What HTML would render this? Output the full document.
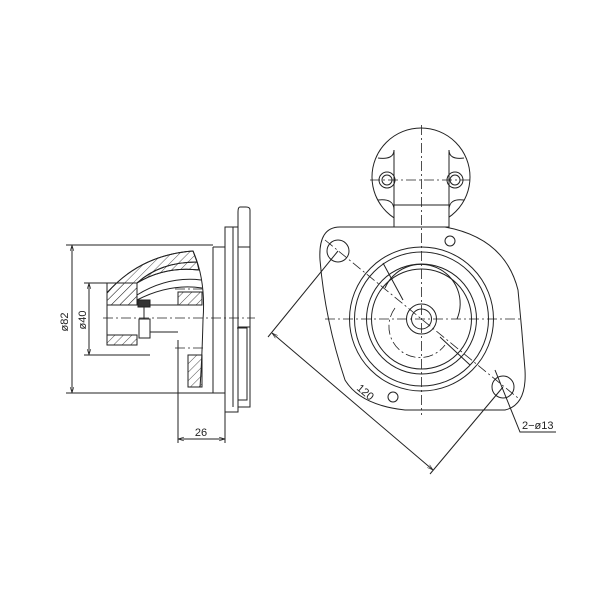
<!DOCTYPE html>
<html><head><style>body{margin:0;background:#fff}svg{display:block}</style></head><body>
<svg width="600" height="600" viewBox="0 0 600 600" xmlns="http://www.w3.org/2000/svg" font-family="Liberation Sans, sans-serif">
<defs>
<pattern id="h" width="6" height="6" patternUnits="userSpaceOnUse" patternTransform="rotate(45)"><line x1="0" y1="0" x2="0" y2="6" stroke="#222" stroke-width="0.8"/></pattern>
<marker id="a" viewBox="0 0 10 10" refX="10" refY="5" markerWidth="6" markerHeight="6" orient="auto-start-reverse"><path d="M0,2 L10,5 L0,8" fill="none" stroke="#222"/></marker>
</defs>
<g fill="none" stroke="#222" stroke-width="1">
<!-- LEFT VIEW -->
<path d="M225,227 V412 H238 V407 H250 V210 Q250,207 246,207 H240 Q238,207 238,212 V227 Z"/>
<line x1="233" y1="227" x2="233" y2="407"/><line x1="238" y1="227" x2="238" y2="407"/>
<line x1="238" y1="247" x2="250" y2="247"/><line x1="238" y1="327" x2="250" y2="327"/>
<path d="M213,247 H225 M213,393 H225 M213,247 V393"/>
<path d="M237,328 H247 V400 H238"/>
<line x1="66" y1="245" x2="213" y2="245"/><line x1="66" y1="393" x2="213" y2="393"/>
<line x1="72" y1="245" x2="72" y2="393" marker-start="url(#a)" marker-end="url(#a)"/>
<line x1="84" y1="283" x2="137" y2="283"/><line x1="84" y1="355" x2="150" y2="355"/>
<line x1="89" y1="283" x2="89" y2="355" marker-start="url(#a)" marker-end="url(#a)"/>
<path d="M107,293 Q140,255 193,251 Q206,280 203,320 Q202,360 200,387"/>
<path d="M107,293 Q140,255 193,251 L197,262 Q160,262 137,283 L137,305 L107,305 Z" fill="url(#h)"/>
<path d="M137,283 Q165,266 199,270 L197,262 Q160,262 137,283 Z" fill="url(#h)"/>
<path d="M137,283 Q165,266 199,270 M137,295 Q168,276 201,280 M137,300 Q170,283 202,288"/>
<rect x="107" y="283" width="30" height="22" fill="url(#h)"/>
<rect x="107" y="335" width="30" height="10" fill="url(#h)"/>
<line x1="107" y1="305" x2="107" y2="335"/>
<path d="M137,305 H202 M150,332 H178"/>
<rect x="178" y="292" width="24" height="13" fill="url(#h)"/>
<rect x="188" y="355" width="14" height="32" fill="url(#h)"/>
<rect x="138" y="300" width="12" height="7" fill="#333"/>
<rect x="139" y="319" width="11" height="19"/><line x1="144" y1="307" x2="144" y2="319"/>
<line x1="178" y1="340" x2="178" y2="443"/><line x1="225" y1="412" x2="225" y2="443"/>
<line x1="178" y1="439" x2="225" y2="439" marker-start="url(#a)" marker-end="url(#a)"/>
<g stroke-dasharray="10,3,2,3" stroke-width="0.8"><line x1="103" y1="318" x2="255" y2="318"/><line x1="175" y1="289" x2="205" y2="289"/><line x1="175" y1="348" x2="205" y2="348"/></g>
<!-- RIGHT VIEW -->
<circle cx="421" cy="177" r="49"/>
<rect x="394" y="205" width="55" height="22" fill="#fff"/>
<path d="M394,205 V150 M449,205 V150"/>
<path d="M378,158 Q394,160 394,150 M378,200 Q394,198 394,210 M464,158 Q449,160 449,150 M464,200 Q449,198 449,210"/>
<circle cx="387" cy="180" r="8"/><circle cx="387" cy="180" r="5"/>
<circle cx="455" cy="180" r="8"/><circle cx="455" cy="180" r="5"/>
<path d="M340,227 H445 Q505,238 518,290 Q522,330 525,370 Q527,405 505,410 H405 Q360,405 345,380 Q325,320 320,260 Q318,227 340,227 Z" fill="#fff"/>
<circle cx="338" cy="251" r="11"/><circle cx="503" cy="387" r="11"/>
<circle cx="450" cy="241" r="5"/><circle cx="393" cy="397" r="5"/>
<circle cx="421.5" cy="319" r="72"/><circle cx="421.5" cy="319" r="67"/>
<circle cx="421.5" cy="319" r="55"/><circle cx="421.5" cy="319" r="50"/>
<path d="M385,288 A36,36 0 0,1 457,319"/>
<circle cx="421.5" cy="319" r="15"/><circle cx="421.5" cy="319" r="10"/>
<path d="M383,263 L403,300 M440,337 L470,365"/>
<line x1="272" y1="333" x2="433" y2="470" marker-start="url(#a)" marker-end="url(#a)"/>
<line x1="338" y1="251" x2="268" y2="337"/><line x1="503" y1="387" x2="430" y2="474"/>
<path d="M495,370 L520,432 H556"/>
<g stroke-dasharray="10,3,2,3" stroke-width="0.8">
<line x1="421.5" y1="125" x2="421.5" y2="415"/><line x1="325" y1="319" x2="520" y2="319"/>
<line x1="370" y1="180" x2="472" y2="180"/>
<line x1="325" y1="240" x2="518" y2="398"/>
<path d="M395,308 A30,30 0 0,0 445,345"/>
</g>
</g>
<g fill="#222" font-size="11">
<text transform="translate(68,322) rotate(-90)" text-anchor="middle">ø82</text>
<text transform="translate(86,320) rotate(-90)" text-anchor="middle">ø40</text>
<text x="201" y="436" text-anchor="middle">26</text>
<text transform="translate(363,395) rotate(40)" text-anchor="middle">120</text>
<text x="522" y="429">2−ø13</text>
</g>
</svg>
</body></html>
